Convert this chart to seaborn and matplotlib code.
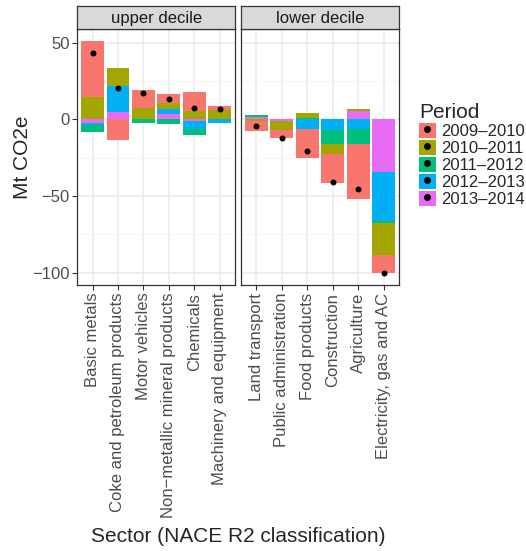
import numpy as np
import pandas as pd
import matplotlib
matplotlib.use("Agg")
import matplotlib.pyplot as plt
import seaborn as sns
from matplotlib.patches import Patch
from matplotlib.lines import Line2D
from matplotlib.ticker import MultipleLocator

periods = ["2009\u20132010", "2010\u20132011", "2011\u20132012", "2012\u20132013", "2013\u20132014"]
colors = ["#F8766D", "#A3A500", "#00BF7D", "#00B0F6", "#E76BF3"]

upper_sectors = ["Basic metals", "Coke and petroleum products", "Motor vehicles",
                 "Non\u2212metallic mineral products", "Chemicals", "Machinery and equipment"]
lower_sectors = ["Land transport", "Public administration", "Food products",
                 "Construction", "Agriculture", "Electricity, gas and AC"]

# Mt CO2e change per period (columns follow `periods`)
upper_values = [
    [36.7, 14.4, -4.6, -1.3, -2.2],
    [-13.3, 11.8, 0.0, 16.9, 4.8],
    [11.7, 7.4, -2.2, 0.0, 0.0],
    [6.1, 3.7, -3.1, 3.2, 3.5],
    [12.6, 5.2, -3.7, -5.6, -0.9],
    [2.6, 6.1, 0.0, -2.2, 0.0],
]
lower_values = [
    [-6.1, -1.3, 1.1, 0.3, 1.4],
    [-4.8, -5.7, 0.0, -0.5, -0.9],
    [-18.7, 3.1, 0.5, -6.3, 0.5],
    [-18.8, -6.5, -9.3, -6.8, 0.4],
    [-35.9, 1.3, -9.6, -6.5, 5.4],
    [-11.9, -20.9, -1.5, -31.8, -34.4],
]

sns.set_theme(style="white")
plt.rcParams["font.family"] = ["Liberation Sans", "DejaVu Sans"]

W, H = 526, 551
fig = plt.figure(figsize=(W / 100, H / 100), dpi=100)

def px_axes(l, r, t, b):
    return fig.add_axes([l / W, 1 - b / H, (r - l) / W, (b - t) / H])

all_vals = np.array(upper_values + lower_values)
ymax = np.clip(all_vals, 0, None).sum(axis=1).max()
ymin = np.clip(all_vals, None, 0).sum(axis=1).min()
pad = (ymax - ymin) * 0.05

panels = [("upper decile", upper_sectors, upper_values, 77.3, 235.0),
          ("lower decile", lower_sectors, lower_values, 240.7, 399.3)]

for i, (title, sectors, vals, left, right) in enumerate(panels):
    ax = px_axes(left, right, 29.3, 285.0)
    v = np.array(vals)
    pos = np.clip(v, 0, None)
    neg = np.clip(v, None, 0)
    # stack from zero outwards: last period nearest to zero, first period outermost
    for k in range(len(periods)):
        cum_pos = pos[:, k:].sum(axis=1)
        cum_neg = neg[:, k:].sum(axis=1)
        for cum in (cum_pos, cum_neg):
            sns.barplot(x=sectors, y=cum, order=sectors, color=colors[k], saturation=1,
                        width=0.9, linewidth=0, errorbar=None, ax=ax, zorder=2)
    net = v.sum(axis=1)
    sns.stripplot(x=sectors, y=net, order=sectors, jitter=False, color="black",
                  size=4.3, linewidth=0, ax=ax, zorder=5)

    ax.set_xlim(-0.6, len(sectors) - 0.4)
    ax.set_ylim(ymin - pad, ymax + pad)
    ax.yaxis.set_major_locator(MultipleLocator(50))
    ax.yaxis.set_minor_locator(MultipleLocator(25))
    ax.grid(True, which="major", color="#EBEBEB", linewidth=1.1, zorder=0)
    ax.grid(True, which="minor", axis="y", color="#F2F2F2", linewidth=0.6, zorder=0)
    ax.set_axisbelow(True)
    for s in ax.spines.values():
        s.set_color("#333333")
        s.set_linewidth(0.9)
    ax.tick_params(axis="both", which="major", length=3.5, width=0.8, color="#333333",
                   labelsize=12, labelcolor="#4D4D4D", pad=2, left=(i == 0), bottom=True)
    ax.tick_params(axis="y", which="minor", length=0)
    ax.set_xticks(range(len(sectors)))
    ax.set_xticklabels(sectors, rotation=90, va="top", ha="center")
    if i == 0:
        ax.set_yticks([50, 0, -50, -100])
        ax.set_yticklabels(["50", "0", "\u221250", "\u2212100"])
    else:
        ax.set_yticklabels([])
    ax.set_xlabel("")
    ax.set_ylabel("")

    strip = px_axes(left, right, 6.0, 29.3)
    strip.set_facecolor("#D9D9D9")
    strip.set_xticks([])
    strip.set_yticks([])
    for s in strip.spines.values():
        s.set_color("#333333")
        s.set_linewidth(0.9)
    strip.text(0.5, 0.45, title, ha="center", va="center", fontsize=12, color="#1A1A1A",
               transform=strip.transAxes)

fig.text(22 / W, 1 - 157 / H, "Mt CO2e", rotation=90, ha="center", va="center", fontsize=15)
fig.text(238 / W, 1 - 536 / H, "Sector (NACE R2 classification)", ha="center", va="center",
         fontsize=15)

handles = [(Patch(facecolor=c, edgecolor="none"),
            Line2D([], [], marker="o", color="black", markersize=4, linestyle=""))
           for c in colors]
leg = fig.legend(handles, periods, title="Period", loc="upper left",
                 bbox_to_anchor=(419 / W, 1 - 103 / H), frameon=False, fontsize=12,
                 title_fontsize=15, handlelength=1.0, handleheight=1.0, labelspacing=0.05,
                 handletextpad=0.3, borderpad=0, borderaxespad=0)
leg._legend_box.align = "left"

fig.savefig("out.png", dpi=100)
